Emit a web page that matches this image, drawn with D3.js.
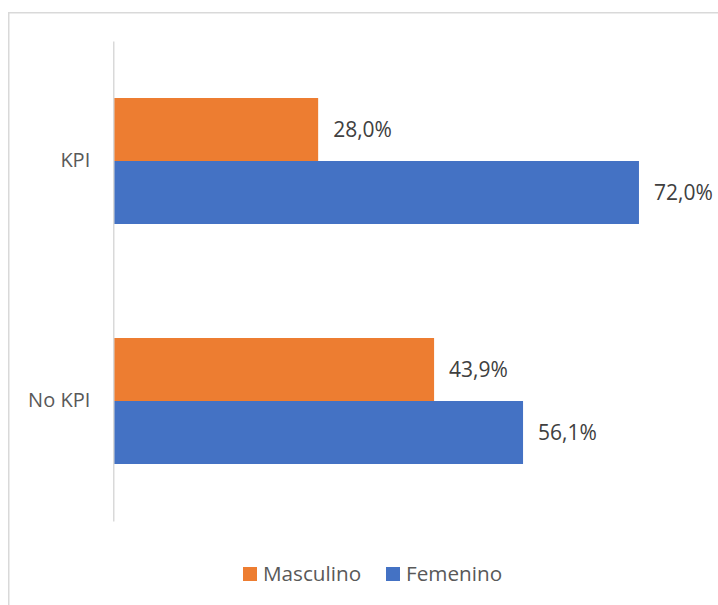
<!DOCTYPE html>
<html>
<head>
<meta charset="utf-8">
<script src="https://cdn.jsdelivr.net/npm/d3@7"></script>
<style>
  html, body { margin: 0; padding: 0; background: #fff; }
  svg { display: block; }
  text { font-family: "Open Sans", "Liberation Sans", sans-serif; }
</style>
</head>
<body>
<svg id="chart" width="718" height="605"></svg>
<script>
// Share of each gender, by KPI group (percent)
const categories = ["KPI", "No KPI"];
const seriesNames = ["Masculino", "Femenino"];
const masculino = [28.0, 43.9];
const femenino = [72.0, 56.1];
const seriesColors = ["#ED7D31", "#4472C4"];

const rows = categories.map((c, i) => ({ category: c, values: [masculino[i], femenino[i]] }));

const svg = d3.select("#chart");

// chart frame
svg.append("rect")
  .attr("x", 8.75).attr("y", 12.75)
  .attr("width", 720).attr("height", 600)
  .attr("fill", "#fff")
  .attr("stroke", "#d9d9d9")
  .attr("stroke-width", 1.5);

const plot = { left: 114, top: 41, bottom: 521 };

const x = d3.scaleLinear().domain([0, 80]).range([plot.left, plot.left + 583.3]);
const y = d3.scaleBand().domain(categories).range([plot.top, plot.bottom]).padding(0);
const ySub = d3.scaleBand().domain(seriesNames).range([0, y.bandwidth()])
  .paddingInner(0).paddingOuter(0.905);

const fmt = v => d3.format(".1f")(v).replace(".", ",") + "%";

// bars
const groups = svg.append("g").selectAll("g")
  .data(rows).join("g")
  .attr("transform", d => `translate(0,${y(d.category)})`);

groups.selectAll("rect")
  .data(d => d.values.map((v, i) => ({ name: seriesNames[i], value: v, i })))
  .join("rect")
  .attr("x", x(0))
  .attr("y", d => ySub(d.name))
  .attr("width", d => x(d.value) - x(0))
  .attr("height", ySub.bandwidth())
  .attr("fill", d => seriesColors[d.i]);

// value labels
groups.selectAll("text")
  .data(d => d.values.map((v, i) => ({ name: seriesNames[i], value: v, i })))
  .join("text")
  .attr("x", d => x(d.value) + 15)
  .attr("y", d => ySub(d.name) + ySub.bandwidth() / 2)
  .attr("dy", "0.35em")
  .attr("font-size", 21)
  .attr("fill", "#404040")
  .text(d => fmt(d.value));

// category axis
const yAxis = svg.append("g")
  .attr("transform", `translate(${plot.left - 0.75},0)`)
  .call(d3.axisLeft(y).tickSize(0).tickPadding(23));
yAxis.select(".domain").attr("stroke", "#d9d9d9").attr("stroke-width", 1.5);
yAxis.selectAll("text")
  .attr("font-family", "'Open Sans', 'Liberation Sans', sans-serif")
  .attr("font-size", 20)
  .attr("fill", "#595959");

// legend
const legendItems = [
  { name: seriesNames[0], color: seriesColors[0], x: 243 },
  { name: seriesNames[1], color: seriesColors[1], x: 386 }
];
const legend = svg.append("g").selectAll("g")
  .data(legendItems).join("g")
  .attr("transform", d => `translate(${d.x},567)`);
legend.append("rect")
  .attr("width", 14).attr("height", 14)
  .attr("fill", d => d.color);
legend.append("text")
  .attr("x", 20).attr("y", 7).attr("dy", "0.35em")
  .attr("font-size", 20.7)
  .attr("fill", "#595959")
  .text(d => d.name);
</script>
</body>
</html>
